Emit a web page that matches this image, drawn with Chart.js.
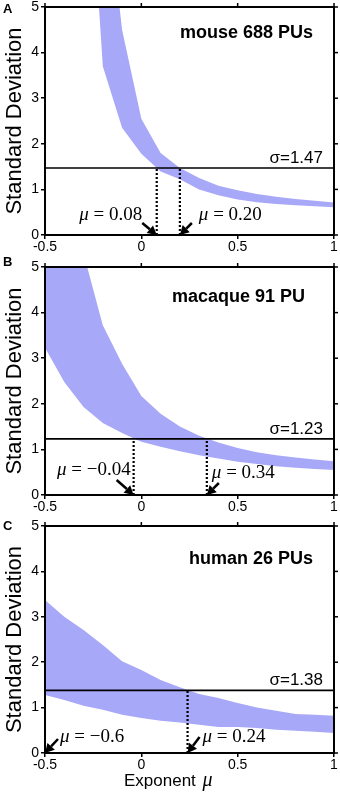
<!DOCTYPE html>
<html><head><meta charset="utf-8">
<script src="https://cdn.jsdelivr.net/npm/chart.js@4.4.1/dist/chart.umd.min.js"></script>
<style>
html,body{margin:0;padding:0;background:#fff;width:340px;height:794px;overflow:hidden;position:relative}
.p{position:absolute;left:0;width:340px}
</style></head><body>
<div class="p" style="top:-10px;height:272px"><canvas id="cA"></canvas></div>
<div class="p" style="top:250px;height:272px"><canvas id="cB"></canvas></div>
<div class="p" style="top:509px;height:285px"><canvas id="cC"></canvas></div>
<script>
// ---------- data ----------
const xTickValues = [-0.5, 0, 0.5, 1];
const xTickLabels = ['-0.5', '0', '0.5', '1'];
const yTickValues = [0, 1, 2, 3, 4, 5];
const yTickLabels = ['0', '1', '2', '3', '4', '5'];

const muGridA = [-0.3, -0.2, -0.1, 0, 0.1, 0.2, 0.3, 0.4, 0.5, 0.6, 0.7, 0.8, 0.9, 1.0];
const upperA  = [14, 8.3, 4.5, 2.55, 1.8, 1.47, 1.25, 1.08, 0.98, 0.9, 0.84, 0.79, 0.75, 0.71];
const lowerA  = [10.2, 3.7, 2.35, 1.78, 1.39, 1.22, 1.0, 0.87, 0.78, 0.72, 0.68, 0.65, 0.63, 0.61];

const muGrid = [-0.5, -0.4, -0.3, -0.2, -0.1, 0, 0.1, 0.2, 0.3, 0.4, 0.5, 0.6, 0.7, 0.8, 0.9, 1.0];
const upperB = [9.5, 7.2, 5.3, 3.72, 2.88, 2.17, 1.78, 1.5, 1.3, 1.15, 1.03, 0.94, 0.87, 0.82, 0.78, 0.74];
const lowerB = [3.23, 2.48, 1.93, 1.58, 1.36, 1.17, 1.06, 0.96, 0.87, 0.8, 0.73, 0.68, 0.63, 0.6, 0.57, 0.55];
const upperC = [3.37, 3.0, 2.71, 2.38, 2.02, 1.83, 1.61, 1.45, 1.3, 1.21, 1.1, 1.0, 0.93, 0.86, 0.84, 0.82];
const lowerC = [1.28, 1.17, 1.04, 0.95, 0.84, 0.77, 0.71, 0.67, 0.62, 0.57, 0.57, 0.55, 0.51, 0.49, 0.47, 0.44];

const sigmaA = 1.47, sigmaB = 1.23, sigmaC = 1.38;
const muCrossA = [0.08, 0.20];  const muLabelA = ['0.08', '0.20'];
const muCrossB = [-0.04, 0.34]; const muLabelB = ['\u22120.04', '0.34'];
const muCrossC = [-0.6, 0.24];  const muLabelC = ['\u22120.6', '0.24'];
const titleA = 'mouse 688 PUs', titleB = 'macaque 91 PU', titleC = 'human 26 PUs';
const yTitle = 'Standard Deviation';
const xTitleText = 'Exponent ', xTitleSym = '\u03bc';

// ---------- styling / layout ----------
const BAND = 'rgb(168,168,248)';
const SANS = '"Liberation Sans", Arial, sans-serif';
const SERIF = '"Liberation Serif", "Times New Roman", serif';

function arrow(ctx, x0, y0, x1, y1) {
  const ang = Math.atan2(y1 - y0, x1 - x0);
  const L = 9, W = 5;
  const bx = x1 - L * Math.cos(ang), by = y1 - L * Math.sin(ang);
  ctx.lineWidth = 2.5;
  ctx.beginPath(); ctx.moveTo(x0, y0); ctx.lineTo(bx, by); ctx.stroke();
  ctx.beginPath(); ctx.moveTo(x1, y1);
  ctx.lineTo(bx + W * Math.sin(ang), by - W * Math.cos(ang));
  ctx.lineTo(bx - W * Math.sin(ang), by + W * Math.cos(ang));
  ctx.closePath(); ctx.fill();
}

function muLabel(ctx, text, x, y, alignRight) {
  ctx.textBaseline = 'alphabetic';
  ctx.textAlign = 'left';
  ctx.font = 'italic 19px ' + SERIF;
  const w1 = ctx.measureText('\u03bc').width;
  ctx.font = '19px ' + SERIF;
  const rest = ' = ' + text;
  const w2 = ctx.measureText(rest).width;
  const x0 = alignRight ? x - (w1 + w2) : x;
  ctx.font = 'italic 19px ' + SERIF;
  ctx.fillText('\u03bc', x0, y);
  ctx.font = '19px ' + SERIF;
  ctx.fillText(rest, x0 + w1, y);
}

function makeChart(id, o) {
  const datasets = [
    { data: o.grid.map((v, i) => ({x: v, y: o.upper[i]})), fill: '+1', backgroundColor: BAND, borderWidth: 0, pointRadius: 0 },
    { data: o.grid.map((v, i) => ({x: v, y: o.lower[i]})), fill: false, borderWidth: 0, pointRadius: 0 },
    { data: [{x: xTickValues[0], y: o.sigma}, {x: xTickValues[xTickValues.length - 1], y: o.sigma}], borderColor: '#000', borderWidth: 1.6, pointRadius: 0, fill: false }
  ];
  o.mus.forEach(m => datasets.push({
    data: [{x: m, y: 0}, {x: m, y: o.sigma}], borderColor: '#000', borderWidth: 2.2, borderDash: [2, 2], pointRadius: 0, fill: false
  }));

  const annot = {
    id: 'annot',
    afterDraw(chart) {
      const {ctx, chartArea: a, scales: {x, y}} = chart;
      ctx.save();
      ctx.strokeStyle = '#000'; ctx.fillStyle = '#000';
      ctx.lineWidth = 2;
      ctx.strokeRect(a.left, a.top, a.right - a.left, a.bottom - a.top);
      ctx.lineWidth = 1.5;
      x.ticks.forEach(t => { const px = x.getPixelForValue(t.value); ctx.beginPath(); ctx.moveTo(px, a.top); ctx.lineTo(px, a.top - 4); ctx.stroke(); });
      y.ticks.forEach(t => { const py = y.getPixelForValue(t.value); ctx.beginPath(); ctx.moveTo(a.right, py); ctx.lineTo(a.right + 4, py); ctx.stroke(); });
      // title
      ctx.font = 'bold 18px ' + SANS;
      ctx.textAlign = 'right'; ctx.textBaseline = 'alphabetic';
      ctx.fillText(o.title, a.right - o.titleDx, a.top + o.titleDy);
      // sigma label
      ctx.font = '17px ' + SANS;
      ctx.fillText('\u03c3=' + o.sigma.toFixed(2), a.right - 11, y.getPixelForValue(o.sigma) - 5);
      // panel letter
      ctx.font = 'bold 13px ' + SANS;
      ctx.textAlign = 'left'; ctx.textBaseline = 'middle';
      ctx.fillText(o.letter, 3, a.top + o.letterDy);
      // arrows + labels
      o.mus.forEach((m, i) => {
        const L = o.lay[i];
        const hx = x.getPixelForValue(Math.max(m, x.min)), hy = y.getPixelForValue(0);
        arrow(ctx, hx + L.tx, hy + L.ty, hx, hy);
        muLabel(ctx, o.labels[i], hx + L.lx, hy + L.ly, L.right);
      });
      if (o.xTitle) {
        ctx.textAlign = 'left'; ctx.textBaseline = 'alphabetic';
        ctx.font = '17px ' + SANS;
        const bx = a.left + 79, by = a.bottom + 33;
        ctx.fillText(xTitleText, bx, by);
        const w = ctx.measureText(xTitleText).width;
        ctx.font = 'italic 20px ' + SERIF;
        ctx.fillText(xTitleSym, bx + w + 2, by);
      }
      ctx.restore();
    }
  };

  return new Chart(document.getElementById(id), {
    type: 'line',
    data: { datasets },
    options: {
      responsive: true, maintainAspectRatio: false, animation: false, events: [],
      layout: { padding: { top: 17, right: 6, left: 0, bottom: 0 } },
      elements: { line: { tension: 0 } },
      plugins: { legend: { display: false }, tooltip: { enabled: false }, filler: { drawTime: 'beforeDatasetsDraw' } },
      scales: {
        x: {
          type: 'linear', min: xTickValues[0], max: xTickValues[xTickValues.length - 1],
          afterBuildTicks: s => { s.ticks = xTickValues.map(v => ({value: v})); },
          afterFit: s => { s.height = o.xAxisH; },
          ticks: { color: '#000', font: { family: SANS, size: 14 }, padding: 0, maxRotation: 0,
                   callback: (v, i) => xTickLabels[i] },
          grid: { drawOnChartArea: false, drawTicks: true, tickLength: 4, color: '#000', lineWidth: 1.5 },
          border: { display: false }
        },
        y: {
          type: 'linear', min: yTickValues[0], max: yTickValues[yTickValues.length - 1],
          afterBuildTicks: s => { s.ticks = yTickValues.map(v => ({value: v})); },
          afterFit: s => { s.width = 45; },
          ticks: { color: '#000', font: { family: SANS, size: 14 }, padding: 2,
                   callback: (v, i) => yTickLabels[i] },
          grid: { drawOnChartArea: false, drawTicks: true, tickLength: 4, color: '#000', lineWidth: 1.5 },
          border: { display: false },
          title: { display: true, text: yTitle, color: '#000', font: { family: SANS, size: 22 }, padding: { top: 2, bottom: 0 } }
        }
      }
    },
    plugins: [annot]
  });
}

makeChart('cA', {
  grid: muGridA, upper: upperA, lower: lowerA, sigma: sigmaA, mus: muCrossA, labels: muLabelA,
  title: titleA, titleDx: 21, titleDy: 31, letter: 'A', letterDy: 2, xAxisH: 27,
  lay: [ {tx: -14.5, ty: -12, lx: -14.5, ly: -15, right: true}, {tx: 12, ty: -12, lx: 19, ly: -15, right: false} ]
});
makeChart('cB', {
  grid: muGrid, upper: upperB, lower: lowerB, sigma: sigmaB, mus: muCrossB, labels: muLabelB,
  title: titleB, titleDx: 29, titleDy: 35, letter: 'B', letterDy: -5, xAxisH: 27,
  lay: [ {tx: -17, ty: -15, lx: -3, ly: -20, right: true}, {tx: 12, ty: -12, lx: 5, ly: -17, right: false} ]
});
makeChart('cC', {
  grid: muGrid, upper: upperC, lower: lowerC, sigma: sigmaC, mus: muCrossC, labels: muLabelC,
  title: titleC, titleDx: 21, titleDy: 38, letter: 'C', letterDy: 0, xAxisH: 41, xTitle: true,
  lay: [ {tx: 13, ty: -14, lx: 15, ly: -11, right: false}, {tx: 12, ty: -16, lx: 15, ly: -11, right: false} ]
});
</script>
</body></html>
